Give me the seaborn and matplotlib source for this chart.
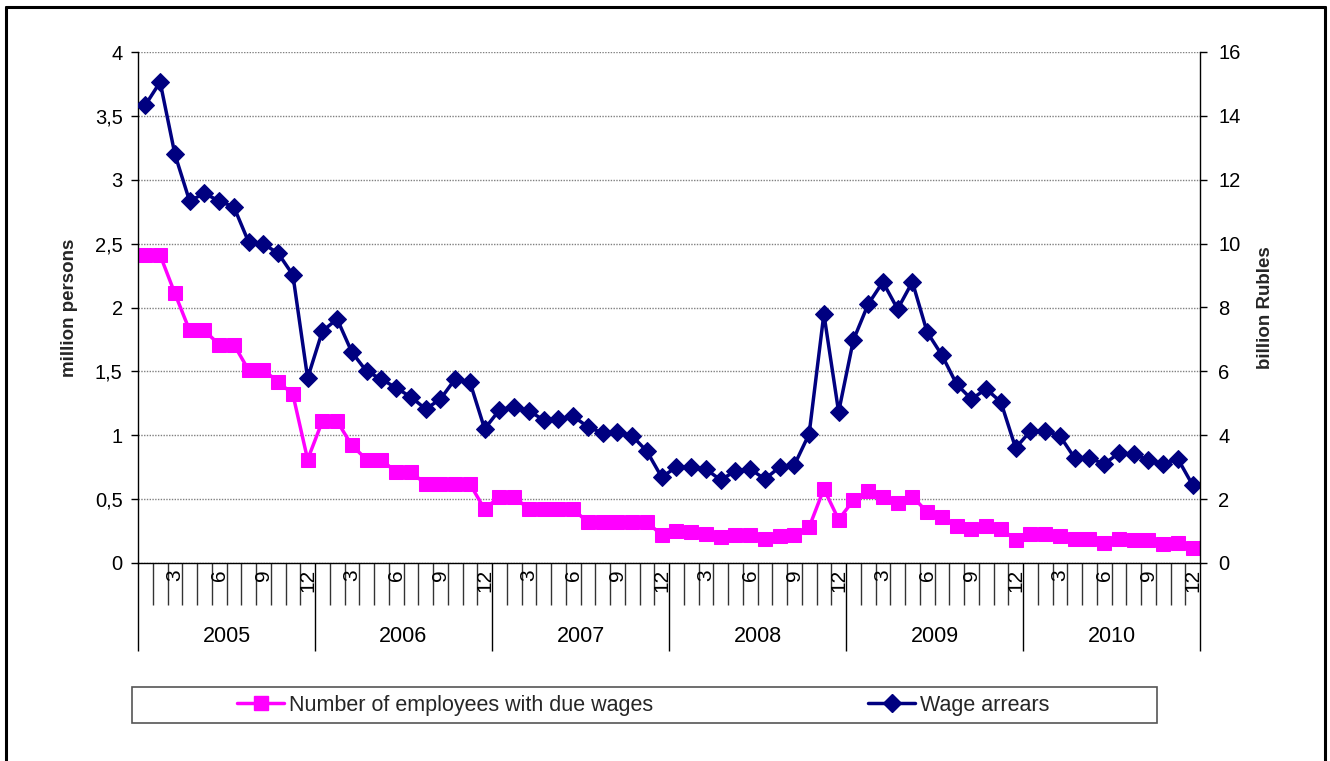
import matplotlib
matplotlib.use("Agg")
import matplotlib.pyplot as plt
import matplotlib.transforms as mtransforms
from matplotlib.lines import Line2D
from matplotlib.patches import Rectangle
import seaborn as sns
import numpy as np
import pandas as pd

years = ["2005", "2006", "2007", "2008", "2009", "2010"]
months = list(range(1, 13))

employees = [
    2.41, 2.41, 2.11, 1.82, 1.82, 1.71, 1.71, 1.51, 1.51, 1.42, 1.32, 0.81,
    1.11, 1.11, 0.92, 0.81, 0.81, 0.71, 0.71, 0.62, 0.62, 0.62, 0.62, 0.42,
    0.52, 0.52, 0.42, 0.42, 0.42, 0.42, 0.32, 0.32, 0.32, 0.32, 0.32, 0.22,
    0.25, 0.24, 0.23, 0.20, 0.22, 0.22, 0.19, 0.21, 0.22, 0.28, 0.58, 0.34,
    0.49, 0.56, 0.52, 0.47, 0.52, 0.40, 0.36, 0.29, 0.27, 0.29, 0.27, 0.18,
    0.23, 0.23, 0.21, 0.19, 0.19, 0.16, 0.19, 0.18, 0.18, 0.15, 0.16, 0.12,
]
arrears = [
    14.34, 15.06, 12.80, 11.33, 11.58, 11.33, 11.15, 10.05, 9.99, 9.70, 9.02, 5.79,
    7.26, 7.64, 6.60, 6.00, 5.76, 5.48, 5.20, 4.82, 5.13, 5.76, 5.67, 4.20,
    4.79, 4.90, 4.76, 4.48, 4.51, 4.60, 4.26, 4.07, 4.10, 3.98, 3.50, 2.69,
    3.00, 3.00, 2.94, 2.60, 2.88, 2.94, 2.63, 3.00, 3.07, 4.04, 7.80, 4.73,
    6.98, 8.10, 8.80, 7.95, 8.80, 7.23, 6.51, 5.60, 5.13, 5.45, 5.04, 3.60,
    4.13, 4.13, 3.98, 3.29, 3.29, 3.10, 3.44, 3.41, 3.22, 3.10, 3.26, 2.44,
]
left_ticks = [0, 0.5, 1, 1.5, 2, 2.5, 3, 3.5, 4]
right_ticks = [0, 2, 4, 6, 8, 10, 12, 14, 16]
label_emp = "Number of employees with due wages"
label_arr = "Wage arrears"

PINK = "#FF00FF"
NAVY = "#000080"

sns.set_theme(style="white")
plt.rcParams["font.family"] = ["Liberation Sans", "DejaVu Sans"]

W, H = 1330, 761
fig = plt.figure(figsize=(W / 100, H / 100), dpi=100)
ax = fig.add_axes([138 / W, 1 - 563 / H, (1200 - 138) / W, (563 - 52) / H])

n = len(employees)
df = pd.DataFrame({
    "idx": np.arange(n),
    "emp": employees,
    "arr": arrears,
})

sns.lineplot(data=df, x="idx", y="emp", ax=ax, color=PINK, linewidth=2.5,
             marker="s", markersize=10.5, markeredgecolor=PINK, legend=False)
ax2 = ax.twinx()
sns.lineplot(data=df, x="idx", y="arr", ax=ax2, color=NAVY, linewidth=2.5,
             marker="D", markersize=9.5, markeredgecolor=NAVY, legend=False)

ax.set_xlim(-0.5, n - 0.5)
ax.set_ylim(0, 4)
ax2.set_ylim(0, 16)
ax.set_yticks(left_ticks)
ax.set_yticklabels([("%g" % v).replace(".", ",") for v in left_ticks], fontsize=14.5)
ax2.set_yticks(right_ticks)
ax2.set_yticklabels([str(v) for v in right_ticks], fontsize=14.5)

ax.yaxis.grid(True, color="#808080", linestyle=(0, (1, 1)), linewidth=1)
ax.set_axisbelow(True)
ax.set_xlabel("")
ax2.set_xlabel("")
ax.set_ylabel("million persons", fontsize=13.5, fontweight="bold", ha="center", va="center")
ax2.set_ylabel("billion Rubles", fontsize=13.5, fontweight="bold", ha="center", va="center")
ax_w = 1200 - 138
ax_h = 563 - 52
ax.yaxis.set_label_coords((70 - 138) / ax_w, 0.5)
ax2.yaxis.set_label_coords((1265 - 138) / ax_w, 0.5)

for a in (ax, ax2):
    for s in a.spines.values():
        s.set_color("black")
        s.set_linewidth(1.0)
    a.spines["top"].set_visible(False)
ax.spines["right"].set_visible(False)
ax2.spines["left"].set_visible(False)
ax2.spines["bottom"].set_visible(False)

ax.tick_params(axis="y", which="major", direction="out", length=5, width=1,
               color="black", left=True, labelcolor="black", pad=6)
ax2.tick_params(axis="y", which="major", direction="out", length=5, width=1,
                color="black", right=True, labelcolor="black", pad=8)

# category axis: month boundaries (minor) and year boundaries (major)
year_bounds = [-0.5 + 12 * k for k in range(len(years) + 1)]
month_bounds = [b - 0.5 for b in range(1, n) if b % 12 != 0]
ax.set_xticks(year_bounds)
ax.set_xticklabels([""] * len(year_bounds))
ax.set_xticks(month_bounds, minor=True)
ax.tick_params(axis="x", which="major", direction="out", length=63, width=1, color="black", bottom=True)
ax.tick_params(axis="x", which="minor", direction="out", length=30, width=1, color="#333333", bottom=True)

trans = mtransforms.blended_transform_factory(ax.transData, ax.transAxes)
for i in range(n):
    m = months[i % 12]
    if m % 3 == 0:
        ax.text(i, -(569 - 563) / ax_h, str(m), rotation=90, ha="center", va="top",
                fontsize=15, transform=trans, color="black")
for k, yr in enumerate(years):
    ax.text(12 * k + 5.5, -(636 - 563) / ax_h, yr, ha="center", va="center",
            fontsize=15.5, transform=trans, color="black")

# outer frame (no bottom edge)
for xs, ys in [((6 / W, 6 / W), (0, 1 - 7 / H)),
               ((6 / W, 1325 / W), (1 - 7 / H, 1 - 7 / H)),
               ((1325 / W, 1325 / W), (1 - 7 / H, 0))]:
    fig.add_artist(Line2D(xs, ys, transform=fig.transFigure, color="black", linewidth=2.2))

# legend box
fig.add_artist(Rectangle((132 / W, 1 - 723 / H), (1157 - 132) / W, (723 - 687) / H,
                         transform=fig.transFigure, fill=False, edgecolor="#555555", linewidth=1.2))
h1 = Line2D([], [], color=PINK, linewidth=2.5, marker="s", markersize=10.5, markeredgecolor=PINK)
h2 = Line2D([], [], color=NAVY, linewidth=2.5, marker="D", markersize=9.5, markeredgecolor=NAVY)
ycen = 1 - 705 / H
fig.legend([h1], [label_emp], loc="center left", bbox_to_anchor=(237 / W, ycen), frameon=False,
           fontsize=15.5, handlelength=2.2, handletextpad=0.2, borderaxespad=0, borderpad=0)
fig.legend([h2], [label_arr], loc="center left", bbox_to_anchor=(868 / W, ycen), frameon=False,
           fontsize=15.5, handlelength=2.2, handletextpad=0.2, borderaxespad=0, borderpad=0)

fig.savefig("out.png", dpi=100, facecolor="white")
